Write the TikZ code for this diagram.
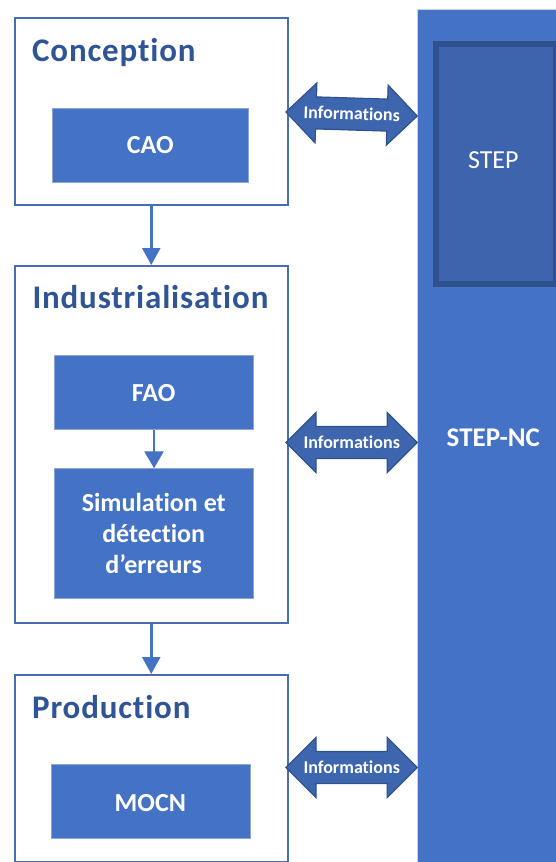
\documentclass[tikz,border=0pt]{standalone}
\usepackage{fontspec}
\setmainfont{Carlito}[RawFeature=-liga]
\newfontfamily\headfont{Carlito}[RawFeature=-liga,LetterSpace=2.5]
\usetikzlibrary{arrows.meta}
\definecolor{officeblue}{HTML}{4472C4}
\definecolor{titleblue}{HTML}{2F5597}
\definecolor{frameblue}{HTML}{4A6DB0}
\definecolor{taskedge}{HTML}{8EA6D6}
\definecolor{stepfill}{HTML}{3E64AD}
\definecolor{stepedge}{HTML}{2F528F}
\definecolor{infofill}{HTML}{3D66AE}
\definecolor{infoedge}{HTML}{2F528F}

\begin{document}
\begin{tikzpicture}[x=1pt,y=-1pt,
  stage/.style={draw=frameblue,line width=1.8pt,fill=white,anchor=north west,inner sep=0pt},
  stagetitle/.style={anchor=base west,inner sep=0pt,text=titleblue,
    font=\headfont\fontsize{33}{40}\selectfont\bfseries},
  task/.style={draw=taskedge,line width=0.8pt,fill=officeblue,anchor=north west,inner sep=0pt},
  tasktext/.style={anchor=base,inner sep=0pt,text=white,
    font=\fontsize{26}{31}\selectfont\bfseries},
  flow/.style={draw=officeblue,line width=2.6pt,
    -{Triangle[width=18pt,length=17pt]}},
  infotext/.style={anchor=base,inner sep=0pt,text=white,
    font=\fontsize{18}{22}\selectfont\bfseries},
  infoarrow/.pic={
    \draw[fill=infofill,draw=infoedge,line width=1.2pt,line join=miter]
      (0,0) -- (30,-30) -- (30,-16) -- (101.3,-16) -- (101.3,-30)
      -- (131.3,0) -- (101.3,30) -- (101.3,16) -- (30,16) -- (30,30) -- cycle;
    \node[infotext] (-label) at (65.7,5.8) {Informations};
  }]
\useasboundingbox (0,0) rectangle (556,862);

% STEP-NC column with the STEP block inside it
\node[draw=gray!35,line width=0.8pt,fill=officeblue,anchor=north west,
  minimum width=150pt,minimum height=870pt,inner sep=0pt] (nc) at (417.3,9) {};
\node[draw=stepedge,line width=6pt,fill=stepfill,anchor=north west,
  minimum width=120pt,minimum height=240.6pt,inner sep=0pt] (step) at (433,40.7) {};
\node[anchor=base,inner sep=0pt,text=white,
  font=\fontsize{26}{31}\selectfont] (stepT) at (493.3,168.3) {STEP};
\node[anchor=base,inner sep=0pt,text=white,
  font=\fontsize{27}{32}\selectfont\bfseries] (ncT) at (493.3,446.7) {STEP-NC};

% process stages
\node[stage,minimum width=272.7pt,minimum height=187.3pt] (conc) at (14,16.7) {};
\node[stagetitle] (concT) at (32,61.7) {Conception};
\node[task,minimum width=196pt,minimum height=74.3pt] (cao) at (52.3,107.7) {};
\node[tasktext] (caoT) at (150.3,153.3) {CAO};

\node[stage,minimum width=272.7pt,minimum height=356.7pt] (indus) at (14,265) {};
\node[stagetitle] (indusT) at (32.3,308.3) {Industrialisation};
\node[task,minimum width=199.3pt,minimum height=74.3pt] (fao) at (54,355) {};
\node[tasktext] (faoT) at (153.7,401.7) {FAO};
\node[task,minimum width=199.3pt,minimum height=130pt] (sim) at (54,468.3) {};
\node[text=white,inner sep=0pt,align=center,
  font=\fontsize{26}{31}\selectfont\bfseries] (simT) at (153.7,533.4)
  {Simulation et\\détection\\d’erreurs};

\node[stage,minimum width=272.7pt,minimum height=186.7pt] (prod) at (14,674) {};
\node[stagetitle] (prodT) at (32,718.3) {Production};
\node[task,minimum width=199.3pt,minimum height=74pt] (mocn) at (50.7,764.3) {};
\node[tasktext] (mocnT) at (150.3,811.7) {MOCN};

% sequence between stages
\draw[flow] (conc.south) -- (indus.north);
\draw[flow] (indus.south) -- (prod.north);
\draw[flow,-{Triangle[width=19pt,length=17pt]}] (fao.south) -- (sim.north);

% information exchange with STEP-NC
\pic[rotate=-1.75,transform shape] (info1) at (286,112) {infoarrow};
\pic (info2) at (286,442.5) {infoarrow};
\pic (info3) at (286,767.5) {infoarrow};
\end{tikzpicture}
\end{document}
